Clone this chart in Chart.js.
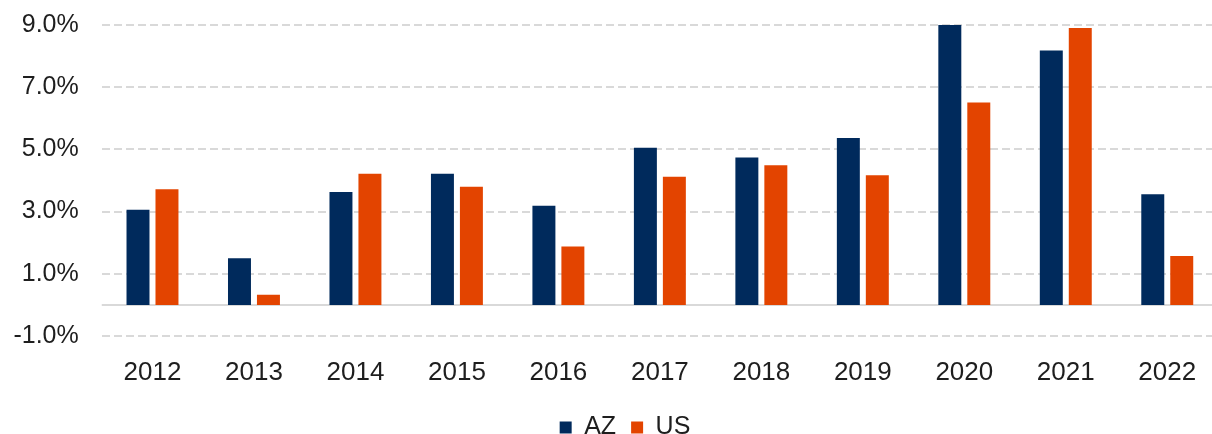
<!DOCTYPE html>
<html>
<head>
<meta charset="utf-8">
<script src="https://cdn.jsdelivr.net/npm/chart.js@4"></script>
<style>
  html, body { margin: 0; padding: 0; background: #ffffff; overflow: hidden; }
  .chart-wrap { position: relative; width: 1222px; height: 450px; }
</style>
</head>
<body>
<div class="chart-wrap"><canvas id="growthChart"></canvas></div>
<script>
// Annual growth, AZ vs US
const years = ["2012", "2013", "2014", "2015", "2016", "2017", "2018", "2019", "2020", "2021", "2022"];
const azValues = [3.06, 1.50, 3.63, 4.22, 3.19, 5.05, 4.74, 5.37, 9.0, 8.18, 3.56];
const usValues = [3.72, 0.33, 4.22, 3.80, 1.88, 4.12, 4.49, 4.17, 6.51, 8.90, 1.57];
const yTicks = [-1, 1, 3, 5, 7, 9];

const navy = "#002a5c";
const orange = "#e34400";
const gridColor = "#d9d9d9";
const textColor = "#1e1e1e";
const fontFamily = "'Liberation Sans', Arial, sans-serif";

// solid line at 0%, the rest of the grid is dashed
const zeroLine = {
  id: "zeroLine",
  beforeDatasetsDraw(chart) {
    const y = chart.scales.y.getPixelForValue(0);
    const area = chart.chartArea;
    const ctx = chart.ctx;
    ctx.save();
    ctx.strokeStyle = gridColor;
    ctx.lineWidth = 2;
    ctx.beginPath();
    ctx.moveTo(area.left, y);
    ctx.lineTo(area.right, y);
    ctx.stroke();
    ctx.restore();
  },
};

// legend sits a little right of centre in the original
const legendNudge = {
  id: "legendNudge",
  afterLayout(chart) {
    chart.legend.left += 16;
    chart.legend.right += 16;
  },
};

new Chart(document.getElementById("growthChart").getContext("2d"), {
  type: "bar",
  data: {
    labels: years,
    datasets: [
      {
        label: "AZ",
        data: azValues,
        backgroundColor: navy,
        barPercentage: 0.793,
        categoryPercentage: 0.571,
      },
      {
        label: "US",
        data: usValues,
        backgroundColor: orange,
        barPercentage: 0.793,
        categoryPercentage: 0.571,
      },
    ],
  },
  options: {
    responsive: true,
    maintainAspectRatio: false,
    animation: false,
    layout: {
      padding: { top: 0, right: 4, bottom: 0, left: 0 },
    },
    plugins: {
      legend: {
        position: "bottom",
        labels: {
          color: textColor,
          boxWidth: 12,
          boxHeight: 12,
          padding: 15,
          font: { family: fontFamily, size: 25 },
        },
      },
      tooltip: { enabled: false },
    },
    scales: {
      x: {
        grid: { display: false, drawTicks: false },
        border: { display: false },
        ticks: {
          color: textColor,
          padding: 21,
          font: { family: fontFamily, size: 26 },
        },
        afterFit(scale) {
          scale.height = 64;
        },
      },
      y: {
        min: -1,
        max: 9,
        grid: {
          color: gridColor,
          lineWidth: 2,
          drawTicks: true,
          tickLength: 13,
          tickColor: "rgba(0,0,0,0)",
        },
        border: { display: false, dash: [8, 4] },
        afterBuildTicks(scale) {
          scale.ticks = yTicks.map((v) => ({ value: v }));
        },
        ticks: {
          color: textColor,
          padding: 10,
          font: { family: fontFamily, size: 25 },
          callback: function (value) {
            return value.toFixed(1) + "%";
          },
        },
        afterFit(scale) {
          scale.width = 101.75;
        },
      },
    },
  },
  plugins: [zeroLine, legendNudge],
});
</script>
</body>
</html>
